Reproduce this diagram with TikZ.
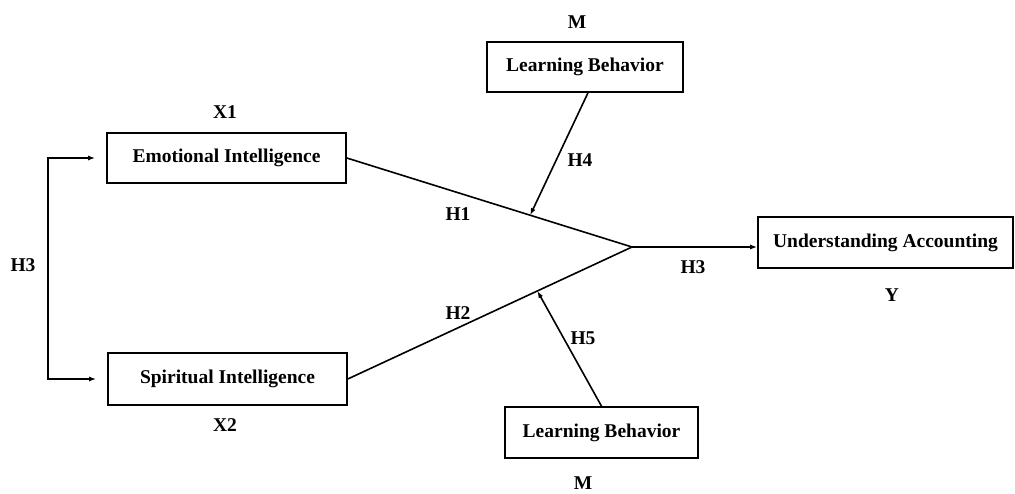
\documentclass[tikz,border=0pt]{standalone}
\usepackage{fontspec}
\setmainfont{Liberation Serif}
\usetikzlibrary{arrows.meta,calc}

\tikzset{
  var/.style={draw, line width=1.6pt, inner sep=0pt, font=\bfseries\fontsize{19.5}{22}\selectfont},
  lbl/.style={inner sep=0pt, font=\bfseries\fontsize{19.5}{22}\selectfont},
  link/.style={line width=1.6pt},
  arrow/.style={link, -{Latex[length=7pt,width=5pt]}}
}

\begin{document}
\begin{tikzpicture}[x=1pt,y=-1pt]
\useasboundingbox (0,0) rectangle (1015,494);

% variables
\node[var, minimum width=239pt, minimum height=50pt] (ei)  at (226.5,158) {Emotional Intelligence};
\node[var, minimum width=239pt, minimum height=52pt] (si)  at (227.5,379) {Spiritual Intelligence};
\node[var, minimum width=196pt, minimum height=50pt] (lbt) at (585,67)    {Learning Behavior};
\node[var, minimum width=193pt, minimum height=51pt] (lbb) at (601.5,432.5) {Learning Behavior};
\node[var, minimum width=255pt, minimum height=51pt] (ua)  at (885.5,242.5) {Understanding Accounting};

% variable names
\node[lbl] (x1) at (225,112) {X1};
\node[lbl] (x2) at (225,425) {X2};
\node[lbl] (mt) at (577,22)  {M};
\node[lbl] (mb) at (583,483) {M};
\node[lbl] (y)  at (892,295) {Y};

% paths
\coordinate (join) at (632,247);
\coordinate (bx) at (48,0);
\draw[link] (ei.east) -- (join);
\draw[link] (si.east) -- (join);
\draw[arrow] (join) -- (join -| ua.west);
\draw[link, {Latex[length=7pt,width=5pt]}-{Latex[length=7pt,width=5pt]}, shorten <=11pt, shorten >=11pt]
  (ei.west) -- (ei.west -| bx) -- (si.west -| bx) -- (si.west);
\draw[arrow] (lbt.south) ++(3,0) -- ($(ei.east)!0.643!(join)$);
\draw[arrow] (lbb.north) -- ($(si.east)!0.667!(join)$);

% hypotheses
\node[lbl] (h1)  at (458,214) {H1};
\node[lbl] (h2)  at (458,313) {H2};
\node[lbl] (h3a) at (23,265)  {H3};
\node[lbl] (h3b) at (693,267) {H3};
\node[lbl] (h4)  at (580,160) {H4};
\node[lbl] (h5)  at (583,338) {H5};
\end{tikzpicture}
\end{document}
